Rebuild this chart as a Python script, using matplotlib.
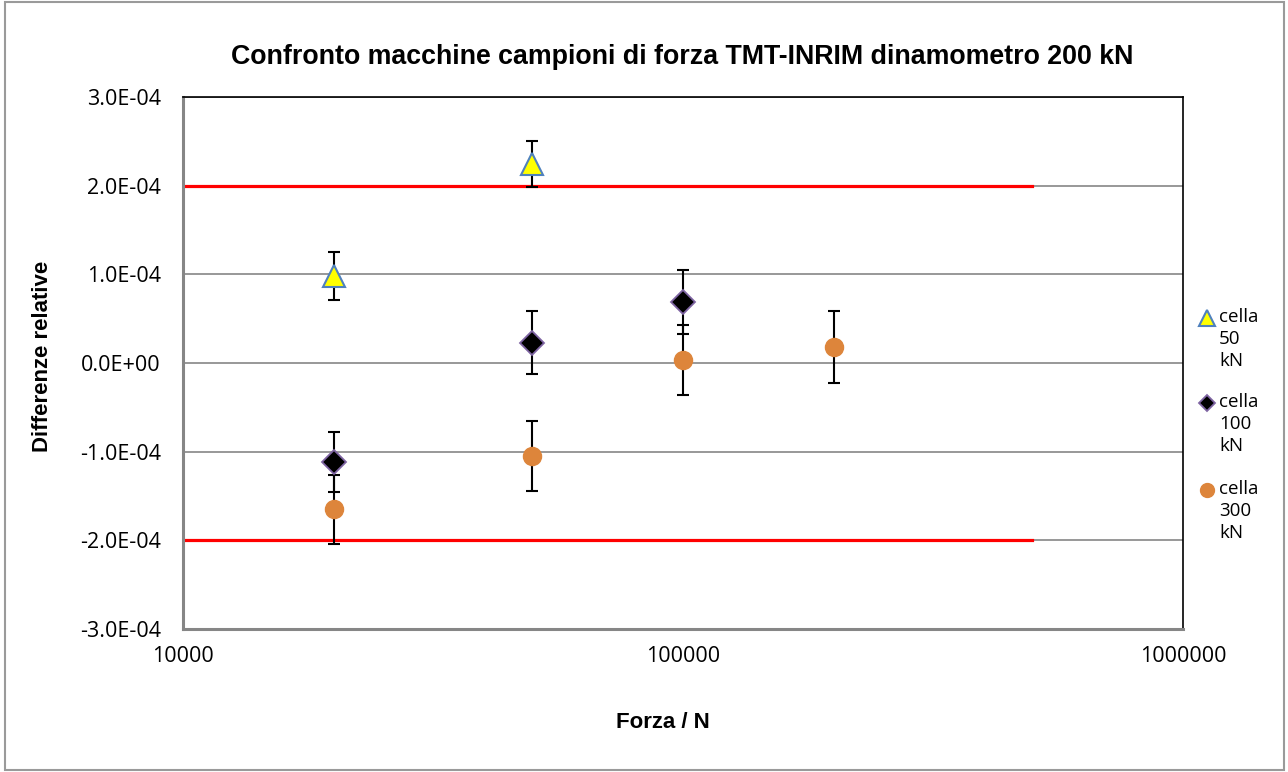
import matplotlib
matplotlib.use('Agg')
import matplotlib.pyplot as plt
import matplotlib.patches as patches
import matplotlib.lines as lines
import matplotlib.ticker as ticker

# data
x50 = [20000, 50000]
y50 = [0.98e-4, 2.24e-4]
e50 = [0.27e-4, 0.26e-4]

x100 = [20000, 50000, 100000]
y100 = [-1.12e-4, 0.23e-4, 0.69e-4]
e100 = [0.34e-4, 0.355e-4, 0.36e-4]

x300 = [20000, 50000, 100000, 200000]
y300 = [-1.65e-4, -1.05e-4, 0.03e-4, 0.18e-4]
e300 = [0.39e-4, 0.395e-4, 0.395e-4, 0.405e-4]

lim_x = [10000, 500000]
lim_hi = [2e-4, 2e-4]
lim_lo = [-2e-4, -2e-4]

labels = ['cella\n50\nkN', 'cella\n100\nkN', 'cella\n300\nkN']

fig = plt.figure(figsize=(12.88, 7.72), dpi=100)
ax = fig.add_axes([183/1288, 1-629/772, 1000/1288, 532/772])

ax.set_xscale('log')
ax.set_xlim(1e4, 1e6)
ax.set_ylim(-3e-4, 3e-4)
ax.set_yticks([-3e-4, -2e-4, -1e-4, 0, 1e-4, 2e-4, 3e-4])
ax.yaxis.set_major_formatter(ticker.FuncFormatter(lambda v, p: f"{v:.1E}"))
ax.xaxis.set_major_locator(ticker.FixedLocator([1e4, 1e5, 1e6]))
ax.xaxis.set_minor_locator(ticker.NullLocator())
ax.xaxis.set_major_formatter(ticker.FuncFormatter(lambda v, p: f"{int(v)}"))
ax.tick_params(length=0, labelsize=15.5, colors='black')
for lab in ax.get_xticklabels() + ax.get_yticklabels():
    lab.set_fontfamily('Open Sans')
ax.tick_params(axis='x', pad=12)
ax.tick_params(axis='y', pad=16)

ax.grid(axis='y', color='#868686', linewidth=1.2, zorder=0)
ax.spines['left'].set_color('#868686')
ax.spines['left'].set_linewidth(2.2)
ax.spines['bottom'].set_color('#868686')
ax.spines['bottom'].set_linewidth(2.2)
ax.spines['top'].set_color('black')
ax.spines['top'].set_linewidth(1.2)
ax.spines['right'].set_color('black')
ax.spines['right'].set_linewidth(1.2)

ax.plot(lim_x, lim_hi, color='#FF0000', linewidth=2.3, zorder=2)
ax.plot(lim_x, lim_lo, color='#FF0000', linewidth=2.3, zorder=2)

for xs, ys, es in [(x50, y50, e50), (x100, y100, e100), (x300, y300, e300)]:
    ax.errorbar(xs, ys, yerr=es, fmt='none', ecolor='black', elinewidth=1.5,
                capsize=4, capthick=1.5, zorder=3)

tri = dict(marker='^', markerfacecolor='#FFFF00', markeredgecolor='#4F81BD', markeredgewidth=1.5)
dia = dict(marker='D', markerfacecolor='black', markeredgecolor='#7E64A2', markeredgewidth=1.3)
cir = dict(marker='o', markerfacecolor='#DD853B', markeredgecolor='#DD853B')

ax.plot(x50, y50, linestyle='none', markersize=16, zorder=4, **tri)
ax.plot(x100, y100, linestyle='none', markersize=12, zorder=4, **dia)
ax.plot(x300, y300, linestyle='none', markersize=13, zorder=4, **cir)

fig.text(682/1288, 1-57/772, 'Confronto macchine campioni di forza TMT-INRIM dinamometro 200 kN',
         ha='center', va='center', fontsize=19.3, fontweight='bold', family='Liberation Sans')
ax.set_xlabel('Forza / N', fontsize=16, fontweight='bold', family='Liberation Sans')
ax.xaxis.set_label_coords(0.48, -(712-629)/532)
ax.set_ylabel('Differenze relative', fontsize=16, fontweight='bold', family='Liberation Sans')
ax.yaxis.set_label_coords(-(183-53)/1000, (629-356)/532)

# legend drawn by hand so the marker sits beside the first text line
leg_y = [318, 403, 490]
for st, ms, lab, yy in zip([tri, dia, cir], [11, 8, 10], labels, leg_y):
    fig.add_artist(lines.Line2D([1207/1288], [1-yy/772], linestyle='none', markersize=ms,
                                transform=fig.transFigure, **st))
    fig.text(1219/1288, 1-(yy-10)/772, lab, ha='left', va='top', fontsize=13.5,
             family='Open Sans', linespacing=1.3)

fig.patches.append(patches.Rectangle((5/1288, 2/772), 1279/1288, 768/772, transform=fig.transFigure,
                                     fill=False, edgecolor='#9A9A9A', linewidth=1.5))

fig.savefig('out.png', dpi=100)
